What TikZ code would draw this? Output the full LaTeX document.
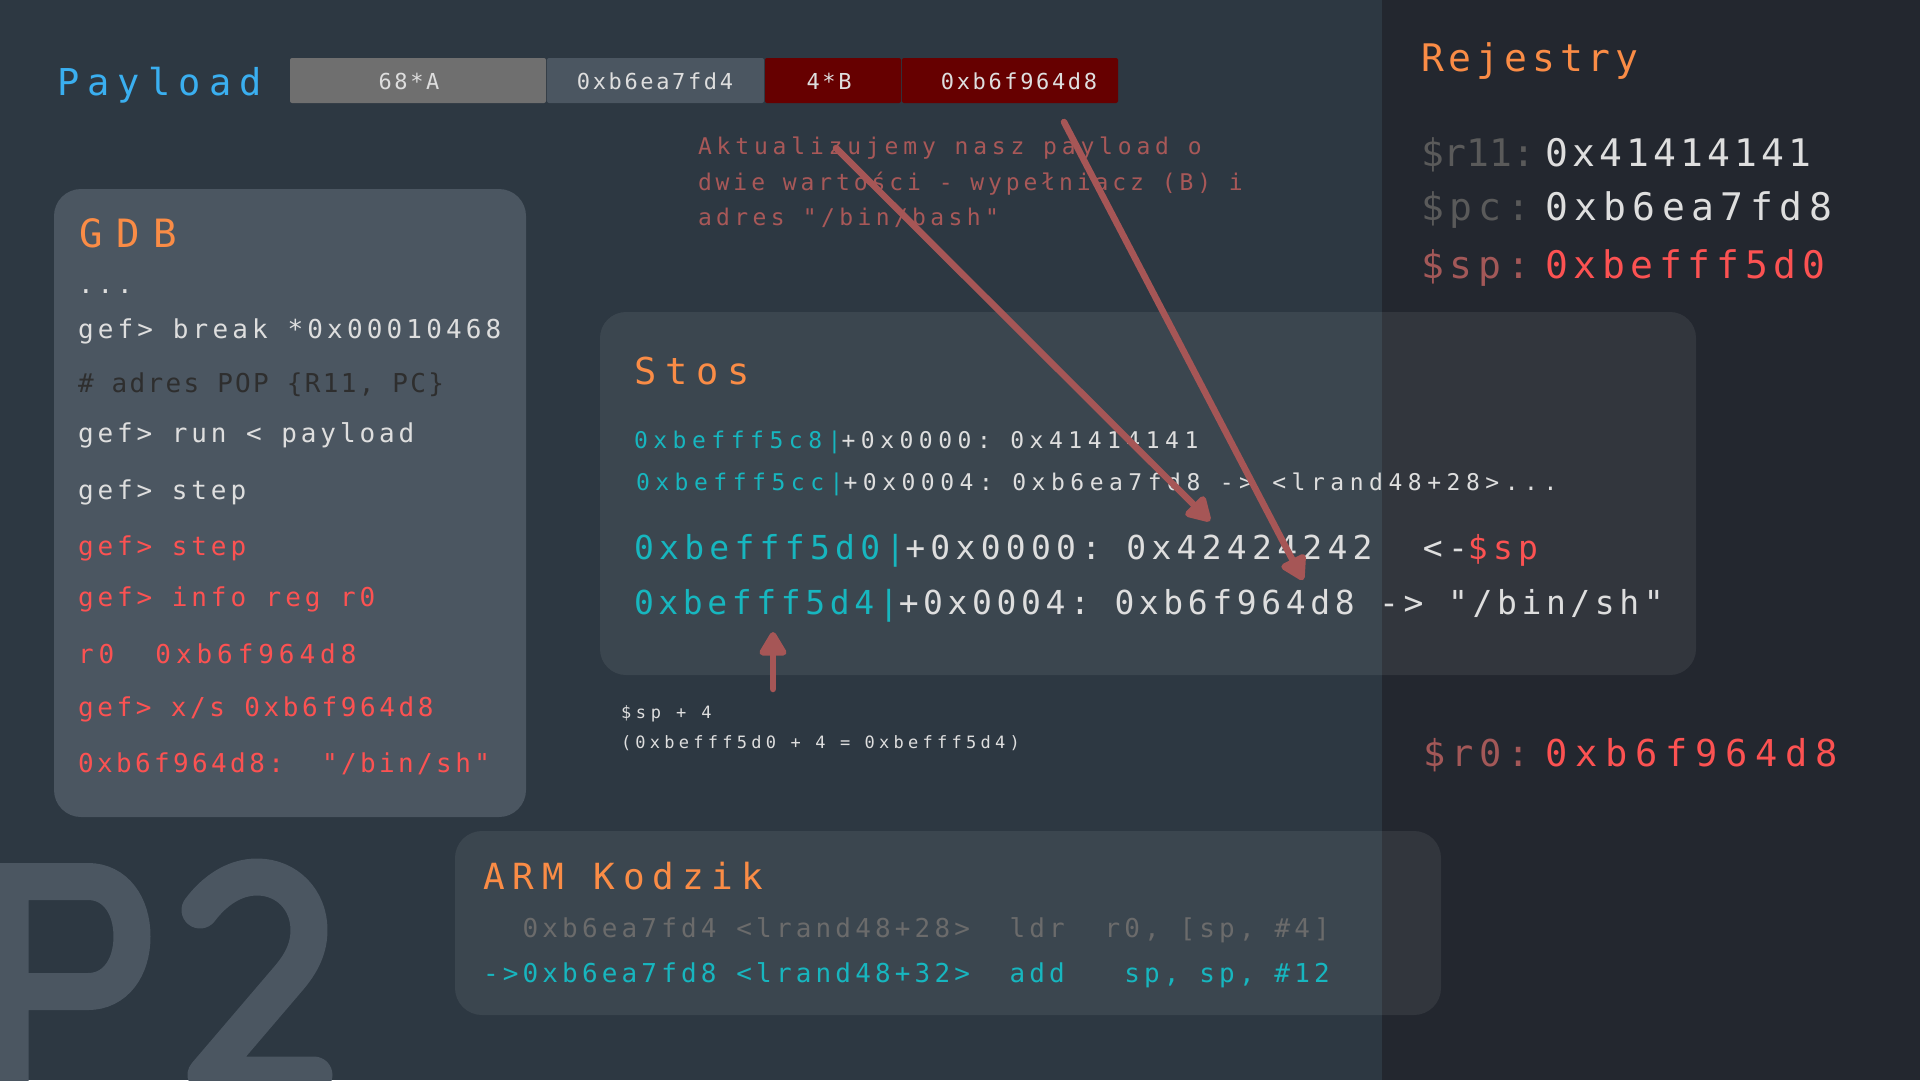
\documentclass[tikz,border=0pt]{standalone}
\usepackage{fontspec}
\setmonofont{DejaVu Sans Mono}
\renewcommand{\familydefault}{\ttdefault}
\usetikzlibrary{arrows.meta}
\definecolor{bgl}{HTML}{2D3842}
\definecolor{bgr}{HTML}{23272F}
\definecolor{boxc}{HTML}{4B5661}
\definecolor{segA}{HTML}{6F6F6F}
\definecolor{dred}{HTML}{660000}
\definecolor{orng}{HTML}{FA8C46}
\definecolor{pblue}{HTML}{3AAFF0}
\definecolor{cyanc}{HTML}{17B6BF}
\definecolor{redc}{HTML}{FC5252}
\definecolor{mred}{HTML}{A35858}
\definecolor{arrc}{HTML}{A65656}
\definecolor{annot}{HTML}{A85858}
\definecolor{grayl}{HTML}{5A5A5A}
\definecolor{armg}{HTML}{6B6B6B}
\definecolor{comm}{HTML}{2E2E2E}
\definecolor{lightc}{HTML}{DEDEDE}
\newcommand\fs[2]{\ttfamily\fontsize{#1}{#1}\selectfont\addfontfeatures{LetterSpace=#2}}
\begin{document}
\begin{tikzpicture}[x=1pt,y=-1pt,
  txt/.style={anchor=base west, inner sep=0pt, outer sep=0pt},
  seglabel/.style={anchor=base, inner sep=0pt, text=lightc, font=\fs{22}{12}},
  panel/.style={fill=white, fill opacity=0.07},
  arr/.style={draw=arrc, line width=6.5pt, line cap=round, -{Triangle[length=27pt,width=30pt,round]}},
  bigglyph/.style={draw=boxc, line width=37pt, line cap=round}
]
\useasboundingbox (0,0) rectangle (1920,1080);
% backgrounds
\fill[bgl] (0,0) rectangle (1382,1080);
\fill[bgr] (1382,0) rectangle (1920,1080);
% big P2
\begin{scope}
\clip (0,0) rectangle (1920,1080);
\draw[bigglyph, line join=miter] (10,1130) -- (10,881.5) -- (88,881.5)
  .. controls (115,881.5) and (132,905) .. (132,936.5)
  .. controls (132,968) and (115,991.5) .. (88,991.5) -- (10,991.5);
\draw[bigglyph, line join=round] (200,910) .. controls (215,890) and (235,877) .. (257,877)
  .. controls (287,877) and (309,900) .. (309,930)
  .. controls (309,950) and (300,965) .. (288,979) -- (206,1075) -- (314,1075);
\end{scope}
% panels
\fill[boxc, rounded corners=27pt] (54,189) rectangle (526,817);
\fill[panel, rounded corners=26pt] (600,312) rectangle (1696,675);
\fill[panel, rounded corners=27pt] (455,831) rectangle (1441,1015);
% payload bar
\fill[segA, rounded corners=2pt] (290,58) rectangle (546,103);
\fill[boxc, rounded corners=2pt] (547,58) rectangle (764,103);
\fill[dred, rounded corners=2pt] (765,58) rectangle (901,103);
\fill[dred, rounded corners=2pt] (902,58) rectangle (1118,103);
\node[seglabel] (sA) at (409,89) {68*A};
\node[seglabel] (sB) at (655,89) {0xb6ea7fd4};
\node[seglabel] (sC) at (829,89) {4*B};
\node[seglabel] (sD) at (1019,89) {0xb6f964d8};
\node[txt, font=\fs{37}{22}, text=pblue] (payload) at (57,95) {Payload};
% Rejestry
\node[txt, font=\fs{38}{13}, text=orng] (rej) at (1421,71) {Rejestry};
\node[txt, font=\fs{38}{0}, text=grayl] (r11l) at (1421,166) {\$r11:};
\node[txt, font=\fs{38}{11}, text=lightc] (r11v) at (1545,166) {0x41414141};
\node[txt, font=\fs{38}{16}, text=grayl] (pcl) at (1421,220) {\$pc:};
\node[txt, font=\fs{38}{17}, text=lightc] (pcv) at (1545,220) {0xb6ea7fd8};
\node[txt, font=\fs{38}{16}, text=mred] (spl) at (1421,278) {\$sp:};
\node[txt, font=\fs{38}{15}, text=redc] (spv) at (1545,278) {0xbefff5d0};
\node[txt, font=\fs{37}{16}, text=mred] (r0l) at (1423,766) {\$r0:};
\node[txt, font=\fs{37}{21}, text=redc] (r0v) at (1545,766) {0xb6f964d8};
% GDB
\node[txt, font=\fs{39}{35}, text=orng] (gdb) at (79,247) {GDB};
\node[txt, font=\fs{26}{15}, text=lightc] (g0) at (78,293) {...};
\node[txt, font=\fs{26}{16}, text=lightc] (g1) at (78,338) {gef> break *0x00010468};
\node[txt, font=\fs{26}{9}, text=comm] (g2) at (78,392) {\# adres POP \{R11, PC\}};
\node[txt, font=\fs{26}{15}, text=lightc] (g3) at (78,442) {gef> run < payload};
\node[txt, font=\fs{26}{15}, text=lightc] (g4) at (78,499) {gef> step};
\node[txt, font=\fs{26}{15}, text=redc] (g5) at (78,555) {gef> step};
\node[txt, font=\fs{26}{15}, text=redc] (g6) at (78,606) {gef> info reg r0};
\node[txt, font=\fs{26}{19}, text=redc] (g7) at (78,663) {r0~~0xb6f964d8};
\node[txt, font=\fs{26}{14}, text=redc] (g8) at (78,716) {gef> x/s 0xb6f964d8};
\node[txt, font=\fs{26}{13}, text=redc] (g9) at (78,772) {0xb6f964d8:~~"/bin/sh"};
% annotation
\node[txt, font=\fs{23}{21}, text=annot] (n1) at (698,154) {Aktualizujemy nasz payload o};
\node[txt, font=\fs{23}{17}, text=annot] (n2) at (698,190) {dwie wartości - wypełniacz (B) i};
\node[txt, font=\fs{23}{19}, text=annot] (n3) at (698,225) {adres "/bin/bash"};
% Stos
\node[txt, font=\fs{37}{24}, text=orng] (stos) at (634,384) {Stos};
\node[txt, font=\fs{23}{24}, text=lightc] (st1) at (634,448) {{\color{cyanc}0xbefff5c8|}+0x0000: 0x41414141};
\node[txt, font=\fs{23}{24}, text=lightc] (st2) at (636,490) {{\color{cyanc}0xbefff5cc|}+0x0004: 0xb6ea7fd8 -> <lrand48+28>...};
\node[txt, font=\fs{33}{16}, text=lightc] (st3) at (634,559) {{\color{cyanc}0xbefff5d0|}+0x0000: 0x42424242~~<-{\color{redc}\$sp}};
\node[txt, font=\fs{33}{14}, text=lightc] (st4) at (634,614) {{\color{cyanc}0xbefff5d4|}+0x0004: 0xb6f964d8 -> "/bin/sh"};
\node[txt, font=\fs{17}{28}, text=lightc] (c1) at (621,718) {\$sp + 4};
\node[txt, font=\fs{17}{25}, text=lightc] (c2) at (621,748) {(0xbefff5d0 + 4 = 0xbefff5d4)};
% ARM
\node[txt, font=\fs{36}{22}, text=orng] (arm) at (483,889) {ARM Kodzik};
\node[txt, font=\fs{26}{16}, text=armg] (a1) at (483,937) {~~0xb6ea7fd4 <lrand48+28>~~ldr~~r0, [sp, \#4]};
\node[txt, font=\fs{26}{16}, text=cyanc] (a2) at (483,982) {->0xb6ea7fd8 <lrand48+32>~~add~~~sp, sp, \#12};
% arrows
\coordinate (p1s) at (836,148);
\coordinate (p1e) at (1210,521);
\coordinate (p2s) at (1064,122);
\coordinate (p2e) at (1303,580);
\coordinate (ups) at (773,689);
\coordinate (upe) at (773,632);
\draw[arr] (p1s) -- (p1e);
\draw[arr] (p2s) -- (p2e);
\draw[arr] (ups) -- (upe);
\end{tikzpicture}
\end{document}
